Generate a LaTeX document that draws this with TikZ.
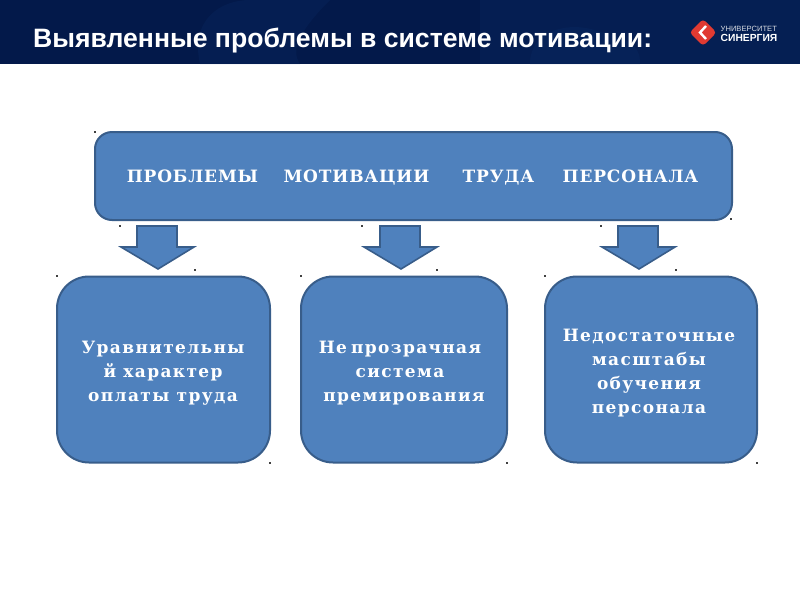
\documentclass[tikz,border=0pt]{standalone}
\usepackage{fontspec}
\setmainfont{DejaVu Serif}
\newfontfamily\titlefont{Liberation Sans}
\newfontfamily\boxfont[LetterSpace=8]{DejaVu Serif}
\newfontfamily\headfont[LetterSpace=5]{DejaVu Serif}
\definecolor{hdr}{HTML}{03194A}
\definecolor{hdrb}{HTML}{0A2C66}
\definecolor{fillb}{HTML}{4F81BD}
\definecolor{lineb}{HTML}{385D8A}
\definecolor{redl}{HTML}{E03A32}
\tikzset{
 box/.style={draw=lineb,line width=2pt,fill=fillb,text=white,align=center,inner sep=0pt},
 blockarrow/.style={draw=lineb,line width=1.6pt,fill=fillb,line join=miter},
 tick/.style={fill=black!75,draw=none},
 lbl/.style={text=white,font=\boxfont\bfseries\fontsize{17}{24}\selectfont,inner sep=0pt,anchor=base},
 hlbl/.style={text=white,font=\headfont\bfseries\fontsize{17}{24}\selectfont,inner sep=0pt,anchor=base},
}
\newcommand{\dropmark}[2]{\fill[tick] (#1-0.8,#2-0.8) rectangle (#1+0.8,#2+0.8);}
\newcommand{\blockdown}[1]{\draw[blockarrow] (#1-21,226) -- (#1+19,226) -- (#1+19,247) -- (#1+36,247) -- (#1,269) -- (#1-37,247) -- (#1-21,247) -- cycle;}
\begin{document}
\begin{tikzpicture}[x=1pt,y=-1pt]
\useasboundingbox (0,0) rectangle (800,600);
\fill[white] (0,0) rectangle (800,600);
% header band
\fill[hdr] (0,0) rectangle (800,64);
\begin{scope}
\clip (0,0) rectangle (800,64);
\fill[hdrb,opacity=.3] (200,64) .. controls (190,20) and (220,0) .. (250,0) -- (330,0) .. controls (300,30) and (290,50) .. (300,64) -- cycle;
\fill[hdrb,opacity=.35] (530,64) .. controls (530,30) and (570,20) .. (600,32) .. controls (640,40) and (640,55) .. (640,64) -- cycle;
\fill[hdrb,opacity=.3] (480,0) rectangle (670,64);
\fill[hdrb,opacity=.35] (670,0) rectangle (800,64);
\end{scope}
\node[anchor=base west,inner sep=0pt,text=white,font=\titlefont\bfseries\fontsize{26.6}{28}\selectfont] (title) at (33,47.5) {Выявленные проблемы в системе мотивации:};
% logo
\fill[redl,rounded corners=3.5pt] (703,19) -- (716.5,32.5) -- (703,46) -- (689.5,32.5) -- cycle;
\draw[white,line width=2.4pt,miter limit=4] (706,26) -- (700,32.5) -- (706,39);
\node[anchor=base west,inner sep=0pt,text=white!85!hdr,font=\titlefont\fontsize{7.6}{8}\selectfont] (logoa) at (720.5,31) {УНИВЕРСИТЕТ};
\node[anchor=base west,inner sep=0pt,text=white,font=\titlefont\bfseries\fontsize{10.3}{11}\selectfont] (logob) at (720.5,41) {СИНЕРГИЯ};
% top box
\node[box,rounded corners=17pt,minimum width=637pt,minimum height=88pt] (top) at (413.5,176) {};
\node[hlbl] (t1) at (192.5,182) {ПРОБЛЕМЫ};
\node[hlbl] (t2) at (356.5,182) {МОТИВАЦИИ};
\node[hlbl] (t3) at (498.5,182) {ТРУДА};
\node[hlbl] (t4) at (630.5,182) {ПЕРСОНАЛА};
% arrows
\blockdown{158}
\blockdown{401}
\blockdown{639}
% lower boxes
\node[box,rounded corners=32pt,minimum width=213pt,minimum height=186pt] (b1) at (163.5,369.5) {};
\node[box,rounded corners=32pt,minimum width=206pt,minimum height=186pt] (b2) at (404,369.5) {};
\node[box,rounded corners=32pt,minimum width=212pt,minimum height=186pt] (b3) at (651,369.5) {};
\node[lbl] (a1) at (163,353) {Уравнительны};
\node[lbl] (a2) at (163,377) {й характер};
\node[lbl] (a3) at (163,401) {оплаты труда};
\node[lbl] (c1) at (400,353) {Не\hspace{4pt}прозрачная};
\node[lbl] (c2) at (400,377) {система};
\node[lbl] (c3) at (404,401) {премирования};
\node[lbl] (d1) at (649,341) {Недостаточные};
\node[lbl] (d2) at (649,365) {масштабы};
\node[lbl] (d3) at (649,389) {обучения};
\node[lbl] (d4) at (649,413) {персонала};
% handle specks
\dropmark{95}{132}\dropmark{731}{219}
\dropmark{120}{226}\dropmark{195}{270}
\dropmark{362}{226}\dropmark{437}{270}
\dropmark{601}{226}\dropmark{676}{270}
\dropmark{57}{276}\dropmark{270}{463}
\dropmark{301}{276}\dropmark{507}{463}
\dropmark{545}{276}\dropmark{757}{463}
\end{tikzpicture}
\end{document}
